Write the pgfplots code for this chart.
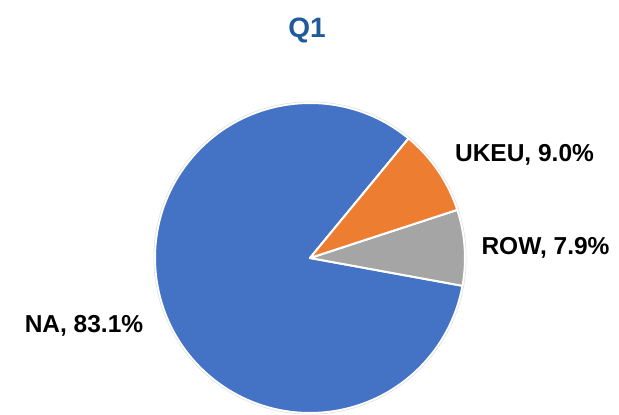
\documentclass[border=0pt]{standalone}
\usepackage{pgfplots}
\usepackage{pgfplotstable}
\pgfplotsset{compat=1.18}
\usepackage{fontspec}
\setmainfont{Liberation Sans}
\definecolor{cNA}{HTML}{4472C4}
\definecolor{cUKEU}{HTML}{ED7D31}
\definecolor{cROW}{HTML}{A5A5A5}
\definecolor{ctitle}{HTML}{1F5A99}
% shares in percent, drawn counter-clockwise starting at 50.5 degrees
\pgfplotstableread{
label share
NA 83.1
ROW 7.9
UKEU 9.0
}\piedata
\begin{document}
\begin{tikzpicture}
\pgfplotstablegetelem{0}{share}\of\piedata \edef\sA{\pgfplotsretval}
\pgfplotstablegetelem{1}{share}\of\piedata \edef\sB{\pgfplotsretval}
\pgfplotstablegetelem{2}{share}\of\piedata \edef\sC{\pgfplotsretval}
\pgfmathsetmacro\aA{50.5}
\pgfmathsetmacro\aB{\aA+3.6*\sA}
\pgfmathsetmacro\aC{\aB+3.6*\sB}
\pgfmathsetmacro\aD{\aC+3.6*\sC}
\def\R{155}
\begin{axis}[
  name=pie,
  x=1pt, y=1pt,
  xmin=0, xmax=619, ymin=0, ymax=415,
  hide axis, clip=false,
]
\fill[cNA, draw=white, line width=2pt, line join=round]
  (axis cs:310,157) -- ++(\aA:\R pt) arc[start angle=\aA, end angle=\aB, radius=\R pt] -- cycle;
\fill[cROW, draw=white, line width=2pt, line join=round]
  (axis cs:310,157) -- ++(\aB:\R pt) arc[start angle=\aB, end angle=\aC, radius=\R pt] -- cycle;
\fill[cUKEU, draw=white, line width=2pt, line join=round]
  (axis cs:310,157) -- ++(\aC:\R pt) arc[start angle=\aC, end angle=\aD, radius=\R pt] -- cycle;
\draw[black!12, line width=0.6pt] (axis cs:310,157) circle[radius=\R pt+1.2pt];
\node[anchor=base, font=\fontsize{28}{30}\selectfont\bfseries, text=ctitle] at (axis cs:307,377) {Q1};
\node[anchor=base, font=\fontsize{24.5}{28}\selectfont\bfseries] at (axis cs:524.5,253) {UKEU, 9.0\%};
\node[anchor=base, font=\fontsize{24.5}{28}\selectfont\bfseries] at (axis cs:545.5,160) {ROW, 7.9\%};
\node[anchor=base, font=\fontsize{24.5}{28}\selectfont\bfseries] at (axis cs:84,82) {NA, 83.1\%};
\end{axis}
\pgfresetboundingbox
\path[use as bounding box] (pie.south west) rectangle (pie.north east);
\end{tikzpicture}
\end{document}
